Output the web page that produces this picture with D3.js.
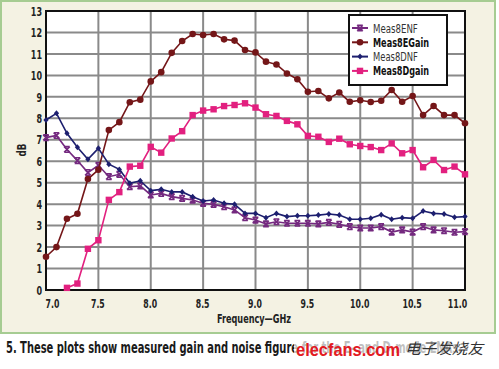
<!DOCTYPE html>
<html>
<head>
<meta charset="utf-8">
<script src="https://cdn.jsdelivr.net/npm/d3@7"></script>
<style>
  body { margin: 0; background: #fff; }
  svg text { font-family: "Liberation Sans Narrow", "DejaVu Sans Condensed", sans-serif; }
</style>
</head>
<body>
<svg id="chart" width="499" height="369"></svg>
<script>
// frequency points, GHz
var freq = [7.0, 7.1, 7.2, 7.3, 7.4, 7.5, 7.6, 7.7, 7.8, 7.9,
            8.0, 8.1, 8.2, 8.3, 8.4, 8.5, 8.6, 8.7, 8.8, 8.9,
            9.0, 9.1, 9.2, 9.3, 9.4, 9.5, 9.6, 9.7, 9.8, 9.9,
            10.0, 10.1, 10.2, 10.3, 10.4, 10.5, 10.6, 10.7, 10.8, 10.9, 11.0];

var meas8ENF = [7.1, 7.2, 6.55, 6.03, 5.47, 5.81, 5.28, 5.39, 4.81, 4.85,
                4.43, 4.5, 4.35, 4.27, 4.19, 4.04, 3.99, 3.88, 3.73, 3.37,
                3.26, 3.08, 3.18, 3.11, 3.11, 3.11, 3.08, 3.15, 3.06, 2.95,
                2.89, 2.89, 2.95, 2.7, 2.8, 2.7, 2.95, 2.8, 2.76, 2.69, 2.72];

var meas8EGain = [1.55, 2.0, 3.32, 3.55, 5.17, 5.6, 7.45, 7.82, 8.75, 8.87,
                  9.72, 10.15, 11.05, 11.6, 11.93, 11.88, 11.93, 11.68, 11.62, 11.18,
                  11.07, 10.64, 10.51, 10.09, 9.82, 9.24, 9.27, 8.93, 9.2, 8.77,
                  8.84, 8.76, 8.82, 9.32, 8.77, 9.04, 8.15, 8.57, 8.15, 8.15, 7.77];

var meas8DNF = [7.92, 8.23, 7.3, 6.65, 6.09, 6.6, 5.86, 5.62, 4.97, 5.09,
                4.63, 4.69, 4.57, 4.57, 4.35, 4.15, 4.19, 4.04, 4.0, 3.57,
                3.57, 3.37, 3.57, 3.42, 3.46, 3.46, 3.49, 3.54, 3.49, 3.3,
                3.3, 3.34, 3.51, 3.3, 3.37, 3.34, 3.68, 3.57, 3.54, 3.39, 3.42];

var meas8Dgain = [null, null, 0.1, 0.3, 1.92, 2.32, 4.2, 4.56, 5.75, 5.79,
                  6.67, 6.4, 7.06, 7.4, 8.15, 8.36, 8.42, 8.57, 8.62, 8.7,
                  8.5, 8.19, 8.11, 7.88, 7.72, 7.18, 7.14, 6.9, 7.05, 6.79,
                  6.71, 6.66, 6.52, 6.83, 6.37, 6.52, 5.72, 6.06, 5.59, 5.75, 5.39];

var yTicks = [0, 1, 2, 3, 4, 5, 6, 7, 8, 9, 10, 11, 12, 13];
var xTicks = [7.0, 7.5, 8.0, 8.5, 9.0, 9.5, 10.0, 10.5, 11.0];

var series = [
    {name: "Meas8ENF", values: meas8ENF, color: "#74297f", marker: "cross", bold: false},
    {name: "Meas8EGain", values: meas8EGain, color: "#741618", marker: "circle", bold: true},
    {name: "Meas8DNF", values: meas8DNF, color: "#1d1f6f", marker: "diamond", bold: false},
    {name: "Meas8Dgain", values: meas8Dgain, color: "#e2207f", marker: "square", bold: true}
];

// squeeze text to look like the narrow bold face of the original
function narrow(sel, perChar){
    sel.attr("lengthAdjust", "spacingAndGlyphs")
        .attr("textLength", function(){
            var t = d3.select(this).text();
            var w = 0;
            for(var i = 0; i < t.length; i++){
                w += (t[i] === "." ? 2.6 : perChar);
            }
            return w;
        });
}

var svg = d3.select("#chart");

// panel background
svg.append("rect")
    .attr("x", 1).attr("y", 1)
    .attr("width", 494).attr("height", 332)
    .style("fill", "#f4f2e3")
    .style("stroke", "#a6cc92")
    .style("stroke-width", 2);

var pLeft = 46, pRight = 465, pTop = 11, pBottom = 290;

var x = d3.scaleLinear().domain([7.0, 11.0]).range([pLeft, pRight]);
var y = d3.scaleLinear().domain([0, 13]).range([pBottom, pTop]);

svg.append("rect")
    .attr("x", pLeft).attr("y", pTop)
    .attr("width", pRight - pLeft).attr("height", pBottom - pTop)
    .style("fill", "#fff");

// grid
var grid = svg.append("g");
grid.selectAll(".hg").data(yTicks).enter().append("line")
    .attr("x1", pLeft).attr("x2", pRight)
    .attr("y1", function(d){ return y(d); })
    .attr("y2", function(d){ return y(d); })
    .style("stroke", "#8a8a8a").style("stroke-width", 2);
grid.selectAll(".vg").data(xTicks).enter().append("line")
    .attr("y1", pTop).attr("y2", pBottom)
    .attr("x1", function(d){ return x(d); })
    .attr("x2", function(d){ return x(d); })
    .style("stroke", "#8a8a8a").style("stroke-width", 2);

// frame
svg.append("rect")
    .attr("x", pLeft).attr("y", pTop)
    .attr("width", pRight - pLeft).attr("height", pBottom - pTop)
    .style("fill", "none")
    .style("stroke", "#111").style("stroke-width", 2);

// axes
var yAxis = svg.append("g")
    .attr("transform", "translate(" + pLeft + ",0)")
    .call(d3.axisLeft(y).tickValues(yTicks).tickSize(0).tickPadding(4).tickFormat(d3.format("d")));
var xAxis = svg.append("g")
    .attr("transform", "translate(0," + pBottom + ")")
    .call(d3.axisBottom(x).tickValues(xTicks).tickSize(0).tickPadding(9).tickFormat(d3.format(".1f")));

[yAxis, xAxis].forEach(function(a){
    a.select(".domain").remove();
    a.selectAll("text")
        .style("font-size", "13px")
        .style("font-weight", "bold")
        .style("fill", "#222")
        .call(narrow, 5.6);
});
// end labels sit inside the frame
xAxis.selectAll(".tick text").attr("dx", function(d){
    if(d === 7.0) return 6;
    if(d === 11.0) return -8;
    return -1;
});

svg.append("text")
    .attr("transform", "translate(26,150) rotate(-90)")
    .attr("text-anchor", "middle")
    .style("font-size", "12px").style("font-weight", "bold").style("fill", "#222")
    .attr("lengthAdjust", "spacingAndGlyphs").attr("textLength", 13)
    .text("dB");

svg.append("text")
    .attr("x", 217).attr("y", 323)
    .style("font-size", "12.5px").style("font-weight", "bold").style("fill", "#222")
    .attr("lengthAdjust", "spacingAndGlyphs").attr("textLength", 74)
    .text("Frequency\u2014GHz");

// lines and markers
function drawMarker(g, type, color){
    if(type === "circle"){
        g.append("circle").attr("r", 3.3).style("fill", color);
    }else if(type === "square"){
        g.append("rect").attr("x", -3.2).attr("y", -3.2).attr("width", 6.4).attr("height", 6.4).style("fill", color);
    }else if(type === "diamond"){
        g.append("path").attr("d", "M0,-3L2.6,0L0,3L-2.6,0Z").style("fill", color);
    }else{
        g.append("path").attr("d", "M-2.8,-2.8L2.8,2.8M2.8,-2.8L-2.8,2.8M-2.8,-2.8H2.8M-2.8,2.8H2.8")
            .style("stroke", color).style("stroke-width", 1.6).style("fill", "none");
    }
}

var line = d3.line()
    .defined(function(d){ return d.v !== null; })
    .x(function(d){ return x(d.f); })
    .y(function(d){ return y(d.v); });

series.forEach(function(s){
    var pts = freq.map(function(f, i){ return {f: f, v: s.values[i]}; });
    svg.append("path")
        .datum(pts)
        .attr("d", line)
        .style("fill", "none")
        .style("stroke", s.color)
        .style("stroke-width", 1.6);
    svg.append("g").selectAll("g")
        .data(pts.filter(function(d){ return d.v !== null; }))
        .enter().append("g")
        .attr("transform", function(d){ return "translate(" + x(d.f) + "," + y(d.v) + ")"; })
        .each(function(){ drawMarker(d3.select(this), s.marker, s.color); });
});

// legend
var legend = svg.append("g");
legend.append("rect")
    .attr("x", 349).attr("y", 15)
    .attr("width", 98).attr("height", 70)
    .style("fill", "#fff")
    .style("stroke", "#111").style("stroke-width", 2);

var rows = legend.selectAll(".row").data(series).enter().append("g")
    .attr("transform", function(d, i){ return "translate(352," + (28 + i * 14.3) + ")"; });
rows.append("line")
    .attr("x1", 0).attr("x2", 16)
    .style("stroke", function(d){ return d.color; })
    .style("stroke-width", 2);
rows.each(function(d){
    var g = d3.select(this).append("g").attr("transform", "translate(8,0)");
    drawMarker(g, d.marker, d.color);
});
rows.append("text")
    .attr("x", 21).attr("dy", "0.35em")
    .style("font-size", "13px")
    .style("font-weight", function(d){ return d.bold ? "bold" : "normal"; })
    .style("fill", function(d){ return d.bold ? "#111" : "#333"; })
    .text(function(d){ return d.name; })
    .call(narrow, 5.6);

// caption
svg.append("text")
    .attr("x", 6).attr("y", 353)
    .style("font-size", "16px").style("font-weight", "bold").style("fill", "#1a1a1a")
    .attr("lengthAdjust", "spacingAndGlyphs").attr("textLength", 292)
    .text("5. These plots show measured gain and noise figure");
svg.append("text")
    .attr("x", 302).attr("y", 353)
    .style("font-size", "16px").style("font-weight", "bold").style("fill", "#1a1a1a")
    .attr("lengthAdjust", "spacingAndGlyphs").attr("textLength", 160)
    .text("for the E- and D-mode LNAs.");

// watermark
svg.append("rect")
    .attr("x", 294).attr("y", 336)
    .attr("width", 205).attr("height", 24)
    .style("fill", "#fff").style("opacity", 0.72);
svg.append("text")
    .attr("x", 296).attr("y", 356)
    .style("font-size", "19px").style("font-weight", "bold").style("fill", "#e21a22")
    .style("font-family", "'Liberation Sans', sans-serif")
    .attr("lengthAdjust", "spacingAndGlyphs").attr("textLength", 104)
    .text("elecfans.com");
svg.append("text")
    .attr("x", 405).attr("y", 354)
    .style("font-size", "15px").style("fill", "#333")
    .style("font-family", "'Noto Sans CJK SC', sans-serif")
    .style("font-style", "italic")
    .attr("lengthAdjust", "spacingAndGlyphs").attr("textLength", 78)
    .text("电子发烧友");
</script>
</body>
</html>
